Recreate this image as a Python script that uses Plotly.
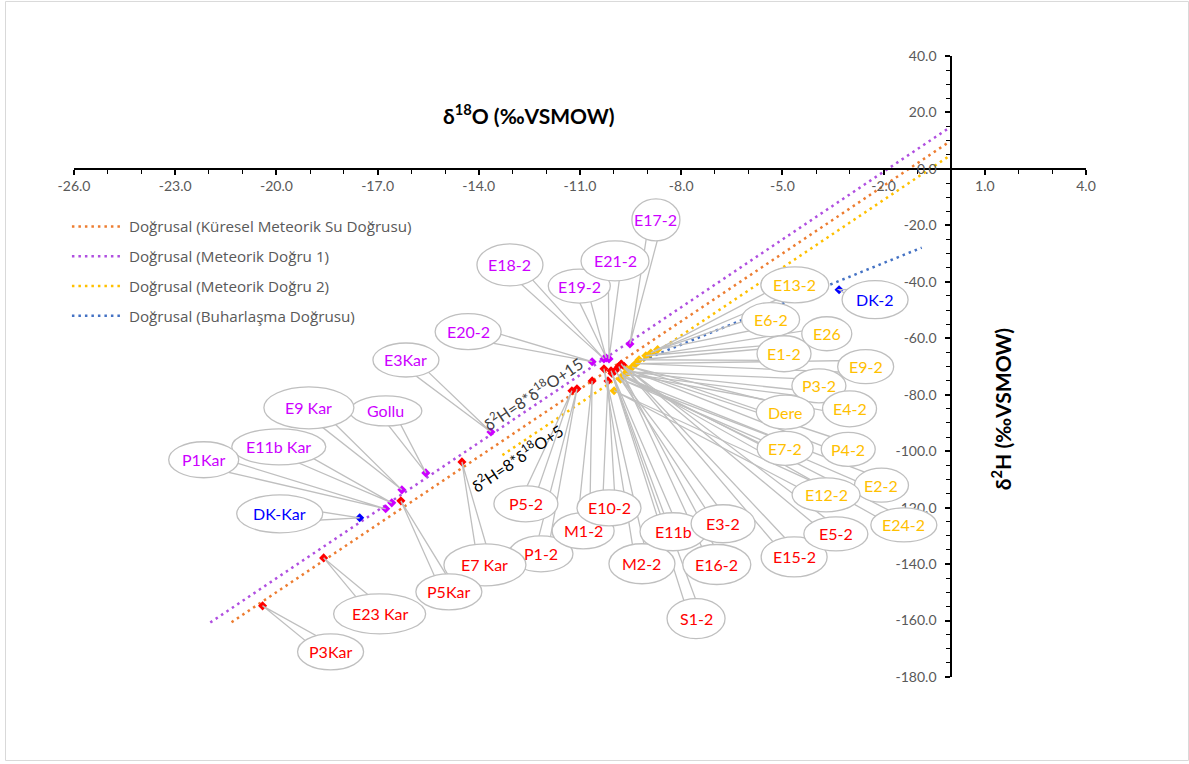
import math
import plotly.graph_objects as go

# ---------------- data ----------------
# Meteorik Doğru 1 points (magenta)
mag_labels = ["E17-2", "E18-2", "E19-2", "E21-2", "E20-2", "E3Kar", "Gollu", "E9 Kar", "E11b Kar", "P1Kar"]
mag_x = [-9.52, -10.29, -10.22, -10.14, -10.64, -13.64, -15.57, -16.28, -16.58, -16.76]
mag_y = [-62.0, -67.3, -67.0, -67.3, -68.3, -93.2, -107.7, -113.7, -118.3, -120.4]

# Küresel Meteorik Su Doğrusu points (red)
red_labels = ["P5-2", "P1-2", "M1-2", "E10-2", "M2-2", "E11b", "S1-2", "E3-2", "E16-2", "E15-2", "E5-2",
              "E7 Kar", "P5Kar", "E23 Kar", "P3Kar"]
red_x = [-11.24, -11.09, -10.64, -10.17, -10.29, -10.08, -10.05, -9.96, -9.85, -9.78, -9.70,
         -14.50, -16.31, -18.60, -20.41]
red_y = [-78.6, -77.9, -75.1, -75.1, -70.8, -71.5, -72.5, -71.5, -70.0, -69.1, -69.8,
         -103.8, -117.6, -137.8, -154.8]

# Meteorik Doğru 2 points (yellow)
yel_labels = ["E13-2", "E6-2", "E26", "E1-2", "E9-2", "P3-2", "Dere", "E4-2", "E7-2", "P4-2", "E2-2", "E12-2", "E24-2"]
yel_x = [-8.90, -8.70, -9.05, -9.25, -9.35, -9.55, -9.45, -9.65, -9.75, -9.60, -9.80, -9.99, -9.70]
yel_y = [-65.2, -64.0, -66.2, -67.6, -69.0, -71.9, -70.2, -72.6, -73.5, -71.0, -74.5, -78.6, -73.0]

# Buharlaşma points (blue)
blu_labels = ["DK-2", "DK-Kar"]
blu_x = [-3.32, -17.53]
blu_y = [-42.8, -123.6]

# trend lines (end points)
gmwl_x = [-21.33, 0.0]
gmwl_y = [-160.6, 10.0]
mwl1_x = [-21.96, 0.0]
mwl1_y = [-160.7, 15.0]
mwl2_x = [-13.30, 0.0]
mwl2_y = [-101.4, 5.0]
evap_x = [-9.30, -0.87]
evap_y = [-68.5, -27.9]

x_ticks = [-26, -23, -20, -17, -14, -11, -8, -5, -2, 1, 4]
x_ticktext = ["-26.0", "-23.0", "-20.0", "-17.0", "-14.0", "-11.0", "-8.0", "-5.0", "-2.0", "1.0", "4.0"]
y_ticks = [40, 20, 0, -20, -40, -60, -80, -100, -120, -140, -160, -180]
y_ticktext = ["40.0", "20.0", "0.0", "-20.0", "-40.0", "-60.0", "-80.0", "-100.0", "-120.0",
              "-140.0", "-160.0", "-180.0"]

# ---------------- callout layout (pixel offsets from point: dx, dy screen-down, rx, ry) -------------
mag_callouts = [(26, -124, 24, 21), (-94, -94, 33, 21), (-27, -72, 31, 17), (6, -98, 34, 20),
                (-124, -30, 33, 18), (-85, -72, 33, 17), (-40, -62, 36, 15), (-93, -82, 45, 21),
                (-113, -56, 47, 18), (-182, -49, 35, 18)]
red_callouts = [(-46, 113, 32, 18), (-36, 165, 32, 18), (-9, 150, 31, 18), (1, 127, 32, 18),
                (38, 195, 33, 20), (62, 161, 33, 19), (84, 245, 29, 20), (108, 153, 32, 19),
                (98, 198, 34, 20), (173, 193, 33, 20), (212, 168, 32, 17),
                (23, 103, 41, 21), (48, 91, 33, 18), (56, 56, 46, 20), (68, 46, 33, 18)]
yel_callouts = [(144, -68, 34, 18), (113, -30, 29, 17), (181, -22, 25, 17), (145, -6, 27, 18),
                (230, 3, 28, 17), (190, 14, 27, 17), (153, 45, 29, 17), (224, 35, 27, 18),
                (163, 72, 28, 17), (221, 80, 27, 17), (261, 106, 27, 17), (212, 104, 34, 17),
                (280, 150, 33, 17)]
blu_callouts = [(36, 10, 33, 19), (-80, -4, 43, 19)]

FONT = "Lato"
LEGFONT = "Open Sans"
RED = "#FF0000"
MAG = "#CC00FF"
YEL = "#FFC000"
BLU = "#0000FF"
GRAY = "#BFBFBF"

fig = go.Figure()

DOT = "2.5px,4px"
fig.add_trace(go.Scatter(x=gmwl_x, y=gmwl_y, mode="lines", name="Doğrusal (Küresel Meteorik Su Doğrusu)",
                         line=dict(color="#ED7D31", width=2.5, dash=DOT), legendgroup="a"))
fig.add_trace(go.Scatter(x=mwl1_x, y=mwl1_y, mode="lines", name="Doğrusal (Meteorik Doğru 1)",
                         line=dict(color="#B04FE0", width=2.5, dash=DOT), legendgroup="b"))
fig.add_trace(go.Scatter(x=mwl2_x, y=mwl2_y, mode="lines", name="Doğrusal (Meteorik Doğru 2)",
                         line=dict(color="#FFC000", width=2.5, dash=DOT), legendgroup="c"))
fig.add_trace(go.Scatter(x=evap_x, y=evap_y, mode="lines", name="Doğrusal (Buharlaşma Doğrusu)",
                         line=dict(color="#4472C4", width=2.5, dash=DOT), legendgroup="d"))

for xs, ys, col in [(red_x, red_y, RED), (mag_x, mag_y, MAG), (yel_x, yel_y, YEL), (blu_x, blu_y, BLU)]:
    fig.add_trace(go.Scatter(x=xs, y=ys, mode="markers", showlegend=False,
                             marker=dict(symbol="diamond", size=7, color=col)))

shapes = []
ellipses = []
annotations = []


def add_callouts(xs, ys, labels, callouts, color):
    for X, Y, lab, (dx, dy, rx, ry) in zip(xs, ys, labels, callouts):
        cx, cy = dx, -dy  # plotly pixel offsets: y up
        d = math.hypot(cx, cy)
        ux, uy = -cx / d, -cy / d  # from centre toward tip
        px, py = -uy, ux
        r_eff = 1.0 / math.sqrt((ux / rx) ** 2 + (uy / ry) ** 2)
        bx, by = cx + ux * r_eff * 0.55, cy + uy * r_eff * 0.55
        hw = 6.0
        path = "M 0 0 L {:.1f} {:.1f} L {:.1f} {:.1f} Z".format(bx + px * hw, by + py * hw,
                                                              bx - px * hw, by - py * hw)
        shapes.append(dict(type="path", xref="x", yref="y", xsizemode="pixel", ysizemode="pixel",
                           xanchor=X, yanchor=Y, path=path, fillcolor="rgba(255,255,255,0)",
                           line=dict(color=GRAY, width=1.3), layer="above"))
        ellipses.append(dict(type="circle", xref="x", yref="y", xsizemode="pixel", ysizemode="pixel",
                             xanchor=X, yanchor=Y, x0=cx - rx, x1=cx + rx, y0=cy - ry, y1=cy + ry,
                             fillcolor="white", line=dict(color=GRAY, width=1.3), layer="above"))
        annotations.append(dict(x=X, y=Y, xref="x", yref="y", showarrow=False, text=lab,
                                xshift=cx, yshift=cy, font=dict(family=FONT, size=16, color=color)))


add_callouts(mag_x, mag_y, mag_labels, mag_callouts, MAG)
add_callouts(red_x, red_y, red_labels, red_callouts, RED)
add_callouts(yel_x, yel_y, yel_labels, yel_callouts, YEL)
add_callouts(blu_x, blu_y, blu_labels, blu_callouts, BLU)

# chart border (paper fractions of the plot domain)
border = dict(type="rect", xref="paper", yref="paper", x0=-0.0677, x1=1.1013, y0=-0.1345, y1=1.0878,
              line=dict(color="#D9D9D9", width=1), fillcolor="rgba(0,0,0,0)", layer="below")

annotations += [
    dict(text="<b>δ<sup>18</sup>O (‰VSMOW)</b>", xref="paper", yref="paper", x=0.4498, y=0.932,
         showarrow=False, font=dict(family=FONT, size=21, color="black")),
    dict(text="<b>δ<sup>2</sup>H (‰VSMOW)</b>", xref="paper", yref="paper", x=0.932, y=0.4316,
         showarrow=False, textangle=-90, font=dict(family=FONT, size=21, color="black")),
    dict(text="δ<sup>2</sup>H=8*δ<sup>18</sup>O+15", xref="paper", yref="paper", x=0.4528, y=0.4573,
         showarrow=False, textangle=-34, font=dict(family=FONT, size=16, color="#404040")),
    dict(text="δ<sup>2</sup>H=8*δ<sup>18</sup>O+5", xref="paper", yref="paper", x=0.438, y=0.3527,
         showarrow=False, textangle=-34, font=dict(family=FONT, size=16, color="black")),
]

fig.update_layout(
    width=1189, height=764,
    margin=dict(l=74, r=103, t=56, b=87),
    paper_bgcolor="white", plot_bgcolor="white",
    font=dict(family=FONT, color="#595959", size=14),
    shapes=[border] + shapes + ellipses,
    annotations=annotations,
    legend=dict(x=-0.007, y=0.752, xanchor="left", yanchor="top", tracegroupgap=7, itemwidth=52,
                bgcolor="rgba(0,0,0,0)", font=dict(family=LEGFONT, size=15.2, color="#595959")),
    xaxis=dict(range=[-26, 4], anchor="free", position=180 / 220, showgrid=False, zeroline=False,
               showline=True, linecolor="black", linewidth=1.5,
               tickmode="array", tickvals=x_ticks, ticktext=x_ticktext,
               ticks="outside", ticklen=5, tickcolor="black", tickwidth=1.5,
               minor=dict(tickmode="linear", tick0=-26, dtick=1, ticks="outside", ticklen=4,
                          tickcolor="black", tickwidth=1.2),
               tickfont=dict(family=FONT, size=14, color="#595959")),
    yaxis=dict(range=[-180, 40], anchor="free", position=26 / 30, showgrid=False, zeroline=False,
               showline=True, linecolor="black", linewidth=1.5,
               tickmode="array", tickvals=y_ticks, ticktext=y_ticktext, ticklabelstandoff=6,
               ticks="outside", ticklen=5, tickcolor="black", tickwidth=1.5,
               minor=dict(tickmode="linear", tick0=-180, dtick=5, ticks="outside", ticklen=4,
                          tickcolor="black", tickwidth=1.2),
               tickfont=dict(family=FONT, size=14, color="#595959")),
)

fig.write_html("out.html", config={"displayModeBar": False},
               post_script="document.body.style.margin='0px'; document.body.style.overflow='hidden';")
